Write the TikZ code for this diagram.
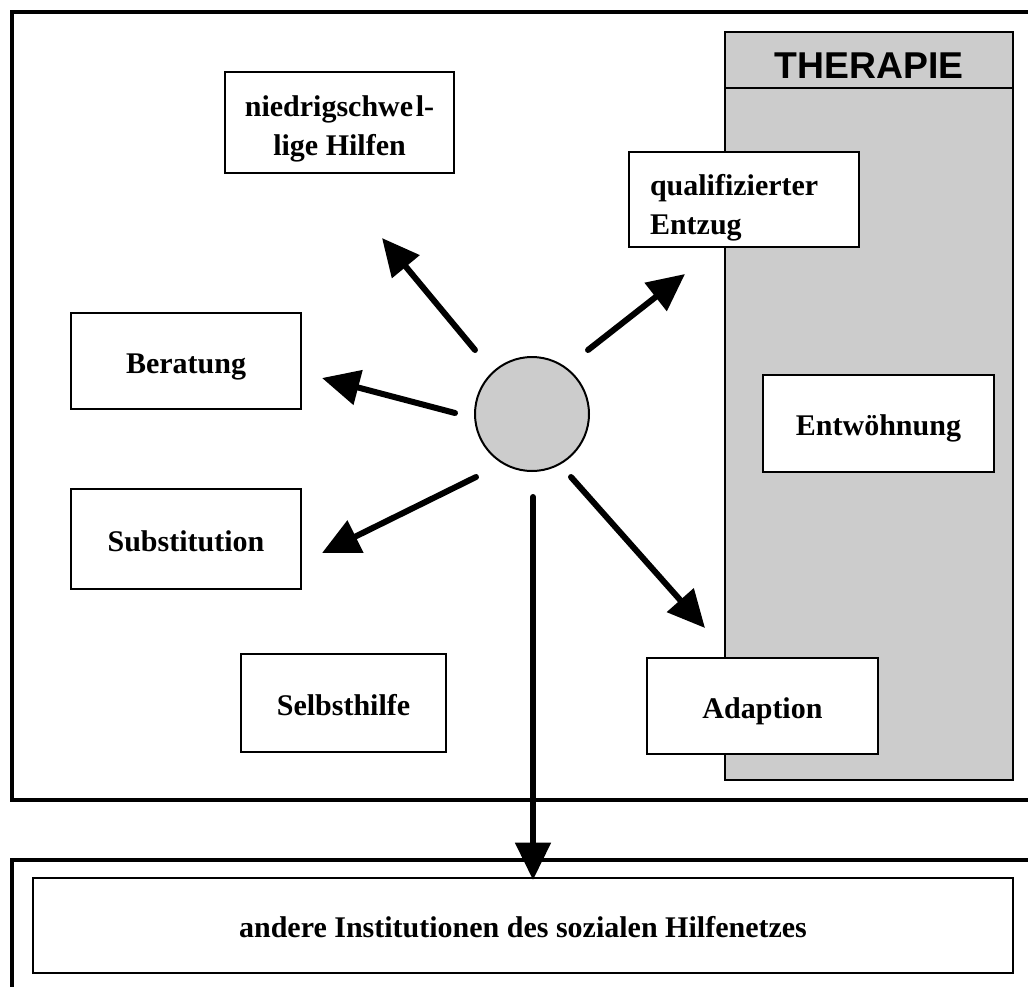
\documentclass[tikz,border=0pt]{standalone}
\usepackage{fontspec}
\setmainfont{Liberation Serif}
\newfontfamily\thersans{Liberation Sans}
\usetikzlibrary{arrows.meta}
\definecolor{panelgray}{HTML}{CCCCCC}
\tikzset{
  frameline/.style={line width=3pt},
  boxnode/.style={draw, line width=1.5pt, fill=white, inner sep=0pt, align=center,
    font=\bfseries\fontsize{22.5pt}{29.5pt}\selectfont},
  oneline/.style={text height=18pt, text depth=0pt},
  bigarrow/.style={line width=4.5pt, line cap=round, -{Triangle[length=28pt,width=26pt]}},
}
\begin{document}
\begin{tikzpicture}[x=0.75pt,y=-0.75pt]
\useasboundingbox (0,0) rectangle (1028,986);
% frames
\draw[frameline] (1030,12) -- (12,12) -- (12,800) -- (1030,800);
\draw[frameline] (1030,860) -- (12,860) -- (12,990);
% therapy panel
\node[draw, line width=1.5pt, fill=panelgray, minimum width=216pt, minimum height=561pt, inner sep=0pt] (ther) at (869,406) {};
\coordinate (hl) at (725,88);
\coordinate (hr) at (1013,88);
\draw[line width=1.5pt] (hl) -- (hr);
\node[font=\thersans\bfseries\fontsize{28pt}{32pt}\selectfont, inner sep=0pt] (thertitle) at (869,66) {THERAPIE};
% boxes
\node[boxnode, minimum width=171.75pt, minimum height=75.75pt] (nied) at (339.5,122.5) {\rule{0pt}{24.75pt}niedrigschwe\kern2pt l-\\lige Hilfen};
\node[boxnode, minimum width=172.5pt, minimum height=71.25pt, inner xsep=15.75pt, text width=141pt, align=left] (quali) at (744,199.5) {\rule{0pt}{28.5pt}qualifizierter\\Entzug};
\node[boxnode, oneline, minimum width=172.5pt, minimum height=72pt] (ber) at (186,361) {Beratung};
\node[boxnode, oneline, minimum width=172.5pt, minimum height=75pt] (subst) at (186,539) {Substitution};
\node[boxnode, oneline, minimum width=153.75pt, minimum height=73.5pt] (selbst) at (343.5,703) {Selbsthilfe};
\node[boxnode, oneline, minimum width=173.25pt, minimum height=72pt] (adapt) at (762.5,706) {Adaption};
\node[boxnode, oneline, minimum width=173.25pt, minimum height=72.75pt] (entw) at (878.5,423.5) {Entwöhnung};
\node[boxnode, oneline, minimum width=735pt, minimum height=71.25pt] (andere) at (523,925.5) {andere Institutionen des sozialen Hilfenetzes};
% hub
\node[circle, draw, line width=1.5pt, fill=panelgray, minimum size=85.5pt, inner sep=0pt] (hub) at (532,414) {};
% arrow ends
\coordinate (s1) at (475,350); \coordinate (e1) at (382,238);
\coordinate (s2) at (455,413); \coordinate (e2) at (322,378);
\coordinate (s3) at (476,477); \coordinate (e3) at (322,553);
\coordinate (s4) at (533,497); \coordinate (e4) at (533,880);
\coordinate (s5) at (571,477); \coordinate (e5) at (705,628);
\coordinate (s6) at (588,350); \coordinate (e6) at (685,274);
\draw[bigarrow] (s1) -- (e1);
\draw[bigarrow] (s2) -- (e2);
\draw[bigarrow] (s3) -- (e3);
\draw[bigarrow] (s4) -- (e4);
\draw[bigarrow] (s5) -- (e5);
\draw[bigarrow] (s6) -- (e6);
\end{tikzpicture}
\end{document}
